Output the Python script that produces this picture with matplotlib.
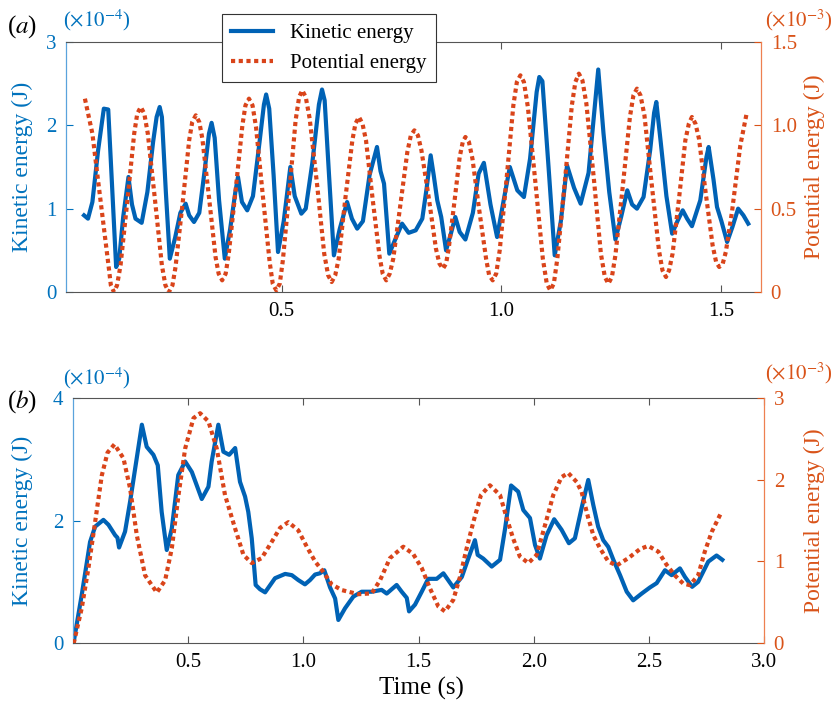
import matplotlib
matplotlib.use('Agg')
import matplotlib.pyplot as plt

plt.rcParams['font.family'] = 'Liberation Serif'
plt.rcParams['mathtext.fontset'] = 'stix'

# ---- panel (a) data: kinetic energy (x1e-4 J) and potential energy (x1e-3 J)
a_ke_t = [0.051, 0.060, 0.070, 0.083, 0.096, 0.106, 0.115, 0.124, 0.131, 0.140,
          0.152, 0.160, 0.168, 0.182, 0.195, 0.208, 0.216, 0.223, 0.228, 0.237,
          0.246, 0.258, 0.270, 0.282, 0.290, 0.301, 0.313, 0.325, 0.335, 0.341,
          0.348, 0.358, 0.371, 0.383, 0.395, 0.401, 0.410, 0.422, 0.435, 0.450,
          0.460, 0.465, 0.472, 0.482, 0.492, 0.505, 0.520, 0.530, 0.545, 0.555,
          0.570, 0.585, 0.592, 0.598, 0.608, 0.619, 0.632, 0.649, 0.660, 0.672,
          0.685, 0.700, 0.717, 0.725, 0.733, 0.745, 0.760, 0.774, 0.789, 0.805,
          0.820, 0.830, 0.839, 0.846, 0.854, 0.863, 0.874, 0.885, 0.895, 0.905,
          0.918, 0.935, 0.948, 0.960, 0.975, 0.990, 1.005, 1.019, 1.036, 1.051,
          1.065, 1.080, 1.086, 1.093, 1.107, 1.121, 1.135, 1.149, 1.165, 1.180,
          1.198, 1.210, 1.220, 1.232, 1.245, 1.259, 1.272, 1.286, 1.297, 1.308,
          1.323, 1.338, 1.347, 1.352, 1.362, 1.375, 1.388, 1.400, 1.412, 1.422,
          1.433, 1.452, 1.466, 1.471, 1.482, 1.490, 1.500, 1.513, 1.525, 1.538,
          1.550, 1.561]
a_ke = [0.92, 0.88, 1.08, 1.70, 2.20, 2.19, 1.25, 0.30, 0.40, 0.90,
        1.38, 1.05, 0.88, 0.83, 1.20, 1.80, 2.10, 2.22, 2.10, 1.20,
        0.40, 0.65, 0.95, 1.06, 0.92, 0.84, 0.95, 1.45, 1.90, 2.03,
        1.85, 1.10, 0.40, 0.75, 1.20, 1.38, 1.08, 0.98, 1.15, 1.80,
        2.25, 2.37, 2.20, 1.40, 0.48, 0.85, 1.50, 1.15, 0.94, 1.00,
        1.55, 2.25, 2.43, 2.30, 1.40, 0.44, 0.75, 1.08, 0.88, 0.76,
        0.85, 1.40, 1.74, 1.45, 1.30, 0.46, 0.65, 0.82, 0.71, 0.74,
        0.88, 1.25, 1.64, 1.40, 1.10, 0.90, 0.50, 0.70, 0.90, 0.72,
        0.63, 0.95, 1.42, 1.55, 1.05, 0.66, 1.10, 1.50, 1.22, 1.14,
        1.60, 2.40, 2.58, 2.53, 1.50, 0.44, 0.85, 1.52, 1.25, 1.06,
        1.43, 2.10, 2.67, 1.90, 1.20, 0.63, 0.90, 1.22, 1.05, 1.00,
        1.14, 1.70, 2.15, 2.28, 1.80, 1.15, 0.70, 0.85, 0.98, 0.88,
        0.79, 1.10, 1.62, 1.74, 1.35, 1.02, 0.85, 0.60, 0.78, 1.00,
        0.92, 0.82]

a_pe_t = [0.053, 0.070, 0.081, 0.096, 0.108, 0.112, 0.119, 0.126, 0.134, 0.150,
          0.165, 0.172, 0.180, 0.188, 0.196, 0.212, 0.228, 0.236, 0.244, 0.252,
          0.259, 0.275, 0.290, 0.297, 0.305, 0.313, 0.320, 0.335, 0.350, 0.357,
          0.365, 0.373, 0.380, 0.396, 0.411, 0.418, 0.426, 0.434, 0.442, 0.457,
          0.473, 0.480, 0.488, 0.496, 0.503, 0.518, 0.532, 0.540, 0.547, 0.555,
          0.564, 0.581, 0.597, 0.606, 0.614, 0.622, 0.630, 0.645, 0.661, 0.668,
          0.676, 0.684, 0.692, 0.707, 0.723, 0.730, 0.738, 0.746, 0.754, 0.770,
          0.786, 0.794, 0.802, 0.810, 0.818, 0.835, 0.851, 0.859, 0.867, 0.874,
          0.880, 0.893, 0.905, 0.912, 0.918, 0.926, 0.934, 0.949, 0.965, 0.972,
          0.980, 0.988, 0.996, 1.012, 1.027, 1.035, 1.043, 1.051, 1.060, 1.077,
          1.094, 1.103, 1.111, 1.119, 1.127, 1.144, 1.160, 1.168, 1.176, 1.184,
          1.193, 1.210, 1.226, 1.235, 1.243, 1.251, 1.259, 1.276, 1.292, 1.300,
          1.308, 1.316, 1.325, 1.341, 1.358, 1.366, 1.374, 1.381, 1.389, 1.404,
          1.418, 1.426, 1.433, 1.441, 1.449, 1.464, 1.480, 1.488, 1.495, 1.503,
          1.510, 1.524, 1.543, 1.558]
a_pe = [1.16, 0.95, 0.71, 0.39, 0.13, 0.04, 0.00, 0.04, 0.16, 0.56,
        0.95, 1.07, 1.11, 1.07, 0.95, 0.56, 0.16, 0.04, 0.00, 0.04,
        0.15, 0.53, 0.91, 1.02, 1.06, 1.02, 0.92, 0.57, 0.21, 0.11,
        0.07, 0.11, 0.23, 0.62, 1.00, 1.12, 1.16, 1.12, 0.99, 0.59,
        0.18, 0.05, 0.01, 0.05, 0.19, 0.61, 1.03, 1.17, 1.21, 1.17,
        1.04, 0.64, 0.23, 0.10, 0.06, 0.10, 0.20, 0.56, 0.91, 1.01,
        1.05, 1.01, 0.91, 0.56, 0.21, 0.11, 0.07, 0.11, 0.20, 0.52,
        0.84, 0.94, 0.97, 0.94, 0.85, 0.56, 0.26, 0.17, 0.14, 0.17,
        0.26, 0.54, 0.81, 0.90, 0.93, 0.90, 0.80, 0.50, 0.20, 0.10,
        0.07, 0.11, 0.25, 0.69, 1.12, 1.26, 1.30, 1.26, 1.11, 0.66,
        0.20, 0.05, 0.01, 0.05, 0.20, 0.66, 1.12, 1.26, 1.31, 1.27,
        1.13, 0.68, 0.23, 0.09, 0.05, 0.09, 0.22, 0.64, 1.05, 1.18,
        1.22, 1.18, 1.06, 0.66, 0.25, 0.13, 0.09, 0.13, 0.23, 0.57,
        0.91, 1.01, 1.05, 1.01, 0.92, 0.60, 0.28, 0.18, 0.15, 0.17,
        0.24, 0.48, 0.88, 1.08]

# ---- panel (b) data
b_ke_t = [0.003, 0.038, 0.074, 0.096, 0.132, 0.154, 0.183, 0.193, 0.200, 0.226,
          0.248, 0.270, 0.299, 0.320, 0.349, 0.368, 0.385, 0.407, 0.429, 0.457,
          0.487, 0.516, 0.559, 0.588, 0.602, 0.631, 0.653, 0.678, 0.704, 0.725,
          0.747, 0.761, 0.776, 0.793, 0.812, 0.834, 0.877, 0.921, 0.950, 0.978,
          1.007, 1.029, 1.051, 1.072, 1.091, 1.116, 1.138, 1.152, 1.181, 1.217,
          1.253, 1.297, 1.340, 1.362, 1.405, 1.427, 1.449, 1.459, 1.485, 1.514,
          1.542, 1.579, 1.608, 1.651, 1.688, 1.716, 1.745, 1.757, 1.781, 1.818,
          1.854, 1.876, 1.902, 1.933, 1.955, 1.984, 2.006, 2.027, 2.056, 2.089,
          2.121, 2.153, 2.179, 2.208, 2.237, 2.259, 2.280, 2.302, 2.324, 2.346,
          2.375, 2.404, 2.432, 2.469, 2.505, 2.534, 2.570, 2.599, 2.635, 2.657,
          2.688, 2.714, 2.758, 2.794, 2.819]
b_ke = [0.02, 0.79, 1.65, 1.90, 2.01, 1.93, 1.76, 1.72, 1.56, 1.82,
        2.31, 2.85, 3.56, 3.20, 3.07, 2.90, 2.14, 1.52, 1.87, 2.74,
        2.96, 2.79, 2.35, 2.55, 2.96, 3.56, 3.12, 3.07, 3.18, 2.63,
        2.39, 2.14, 1.71, 0.95, 0.88, 0.83, 1.06, 1.13, 1.11, 1.03,
        0.96, 1.03, 1.12, 1.14, 1.19, 0.91, 0.73, 0.38, 0.57, 0.76,
        0.84, 0.84, 0.87, 0.81, 0.95, 0.84, 0.74, 0.52, 0.63, 0.84,
        1.05, 1.05, 1.14, 0.91, 1.08, 1.38, 1.68, 1.44, 1.38, 1.25,
        1.36, 1.87, 2.57, 2.47, 2.17, 2.04, 1.60, 1.38, 1.76, 2.02,
        1.85, 1.63, 1.71, 2.20, 2.66, 2.25, 1.90, 1.68, 1.57, 1.36,
        1.11, 0.84, 0.70, 0.81, 0.91, 0.98, 1.19, 1.11, 1.22, 1.08,
        0.92, 1.00, 1.33, 1.43, 1.36]

b_pe_t = [0.003, 0.038, 0.067, 0.096, 0.125, 0.150, 0.180, 0.219, 0.248, 0.277,
          0.313, 0.364, 0.400, 0.429, 0.458, 0.487, 0.523, 0.552, 0.588, 0.624,
          0.660, 0.704, 0.740, 0.776, 0.819, 0.863, 0.899, 0.935, 0.978, 1.015,
          1.051, 1.087, 1.123, 1.167, 1.239, 1.297, 1.333, 1.376, 1.434, 1.477,
          1.514, 1.550, 1.586, 1.615, 1.651, 1.680, 1.709, 1.738, 1.771, 1.810,
          1.854, 1.883, 1.911, 1.940, 1.977, 2.013, 2.049, 2.085, 2.121, 2.150,
          2.187, 2.208, 2.237, 2.259, 2.288, 2.324, 2.360, 2.411, 2.461, 2.497,
          2.541, 2.577, 2.613, 2.649, 2.678, 2.714, 2.743, 2.773, 2.813]
b_pe = [0.00, 0.43, 0.92, 1.48, 2.05, 2.33, 2.43, 2.26, 1.89, 1.32,
        0.83, 0.62, 0.77, 1.16, 1.81, 2.38, 2.75, 2.81, 2.71, 2.38,
        1.81, 1.40, 1.08, 0.98, 1.04, 1.24, 1.41, 1.48, 1.38, 1.18,
        1.00, 0.87, 0.72, 0.65, 0.60, 0.61, 0.77, 1.04, 1.18, 1.09,
        0.92, 0.67, 0.45, 0.39, 0.53, 0.81, 1.16, 1.48, 1.81, 1.93,
        1.81, 1.53, 1.28, 1.06, 0.98, 1.08, 1.44, 1.81, 2.03, 2.08,
        1.97, 1.85, 1.53, 1.32, 1.16, 1.00, 0.95, 1.04, 1.15, 1.19,
        1.12, 0.96, 0.83, 0.73, 0.71, 0.83, 1.12, 1.36, 1.59]

KE_AXIS = '#0072BD'
PE_AXIS = '#D95319'
KE_LINE = '#0062B5'
PE_LINE = '#D9441A'
FS_TICK = 15
FS_YLABEL = 17
FS_LABEL = 18

W, H = 834, 701
fig = plt.figure(figsize=(W / 100, H / 100), dpi=100)


def fxy(x, y):
  ''' pixel position -> figure fraction '''
  return x / W, 1 - y / H


def make_panel(rect, ke_t, ke, pe_t, pe, xlim, xticks, xlabels,
               yl, ytl, yr, ytr, ytr_labels):
  ax = fig.add_axes(rect)
  ax2 = ax.twinx()

  l1, = ax.plot(ke_t, ke, color=KE_LINE, lw=3.0, solid_joinstyle='round',
                label='Kinetic energy')
  l2, = ax2.plot(pe_t, pe, color=PE_LINE, lw=3.0, ls=(0, (1, 0.85)),
                 dash_capstyle='butt', label='Potential energy')

  ax.set_xlim(*xlim)
  ax.set_xticks(xticks)
  ax.set_xticklabels(xlabels, fontsize=FS_TICK)
  ax.set_ylim(*yl)
  ax.set_yticks(ytl)
  ax.set_yticklabels([str(v) for v in ytl], fontsize=FS_TICK, color=KE_AXIS)
  ax2.set_ylim(*yr)
  ax2.set_yticks(ytr)
  ax2.set_yticklabels(ytr_labels, fontsize=FS_TICK, color=PE_AXIS)

  ax.tick_params(axis='x', direction='in', top=True, length=5, width=0.8,
                 color='#555555', pad=7)
  ax.tick_params(axis='y', direction='in', length=5, width=0.8,
                 color=KE_AXIS, pad=7)
  ax2.tick_params(axis='y', direction='in', length=5, width=0.8,
                  color=PE_AXIS, pad=7)

  for s in ['top', 'bottom']:
    ax.spines[s].set_color('#555555')
    ax.spines[s].set_linewidth(0.8)
  ax.spines['left'].set_color('#5AA3DC')
  ax.spines['left'].set_linewidth(0.9)
  ax.spines['right'].set_visible(False)
  for s in ['top', 'bottom', 'left']:
    ax2.spines[s].set_visible(False)
  ax2.spines['right'].set_color('#EE8050')
  ax2.spines['right'].set_linewidth(0.9)

  ax.set_ylabel('Kinetic energy (J)', fontsize=FS_YLABEL, color=KE_AXIS)
  ax2.set_ylabel('Potential energy (J)', fontsize=FS_YLABEL, color=PE_AXIS)
  return ax, ax2, l1, l2


# panel (a)
ax_a, ax_a2, la1, la2 = make_panel(
    [66 / W, 1 - 292 / H, 695 / W, 250 / H],
    a_ke_t, a_ke, a_pe_t, a_pe,
    (0.01, 1.59), [0.5, 1.0, 1.5], ['0.5', '1.0', '1.5'],
    (0, 3), [0, 1, 2, 3], (0, 1.5), [0, 0.5, 1.0, 1.5], ['0', '0.5', '1.0', '1.5'])
ax_a.yaxis.set_label_coords((33 - 66) / 695, 0.5)
ax_a2.yaxis.set_label_coords((804 - 66) / 695, 0.5)

# panel (b)
ax_b, ax_b2, lb1, lb2 = make_panel(
    [73 / W, 1 - 643.3 / H, 691 / W, 245.6 / H],
    b_ke_t, b_ke, b_pe_t, b_pe,
    (0, 3.0), [0.5, 1.0, 1.5, 2.0, 2.5, 3.0], ['0.5', '1.0', '1.5', '2.0', '2.5', '3.0'],
    (0, 4), [0, 2, 4], (0, 3), [0, 1, 2, 3], ['0', '1', '2', '3'])
ax_b.yaxis.set_label_coords((33 - 73) / 691, 0.5)
ax_b2.yaxis.set_label_coords((804 - 73) / 691, 0.5)

# legend (sits over the top spine of panel a)
leg = ax_a2.legend([la1, la2], ['Kinetic energy', 'Potential energy'],
                   loc='upper left', bbox_to_anchor=fxy(222, 14),
                   bbox_transform=fig.transFigure, borderaxespad=0,
                   fontsize=FS_TICK, frameon=True, fancybox=False,
                   framealpha=1, edgecolor='#333333', handlelength=2.0,
                   handletextpad=0.8, labelspacing=0.5, borderpad=0.45)
leg.get_frame().set_linewidth(0.8)
leg.set_zorder(10)

# panel letters, scale factors, x label
fig.text(*fxy(22, 27), r'($a$)', ha='center', va='center', fontsize=FS_LABEL)
fig.text(*fxy(22, 402), r'($b$)', ha='center', va='center', fontsize=FS_LABEL)
fig.text(*fxy(97, 20), r'($\times10^{-4}$)', ha='center', va='center',
         fontsize=FS_TICK, color=KE_AXIS)
fig.text(*fxy(799, 20), r'($\times10^{-3}$)', ha='center', va='center',
         fontsize=FS_TICK, color=PE_AXIS)
fig.text(*fxy(97, 378), r'($\times10^{-4}$)', ha='center', va='center',
         fontsize=FS_TICK, color=KE_AXIS)
fig.text(*fxy(799, 373), r'($\times10^{-3}$)', ha='center', va='center',
         fontsize=FS_TICK, color=PE_AXIS)
fig.text(*fxy(421, 688), 'Time (s)', ha='center', va='center', fontsize=FS_LABEL)

fig.savefig('out.png', dpi=100)
